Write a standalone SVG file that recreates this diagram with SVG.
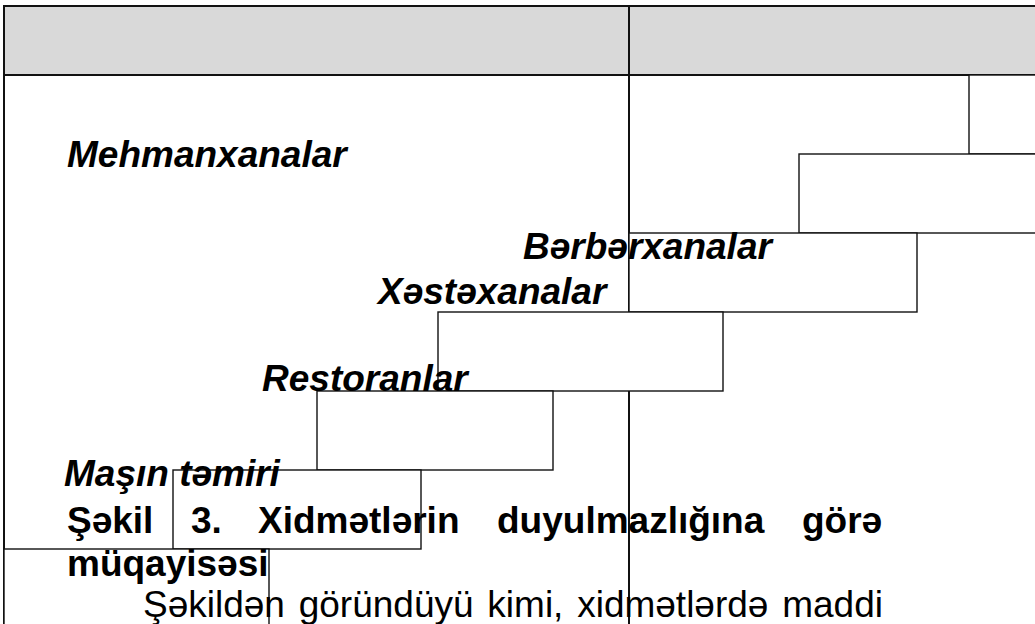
<svg xmlns="http://www.w3.org/2000/svg" width="1035" height="624" viewBox="0 0 1035 624">
  <style>
    .frame { stroke: #111; stroke-width: 2; fill: none; }
    .step { fill: #fff; stroke: #111; stroke-width: 1.4; }
    .label { font-family: "Liberation Sans", Arial, sans-serif; font-size: 37px; font-weight: bold; font-style: italic; fill: #000; }
    .caption { font-family: "Liberation Sans", Arial, sans-serif; font-size: 37px; font-weight: bold; fill: #000; }
    .body { font-family: "Liberation Sans", Arial, sans-serif; font-size: 37px; fill: #000; }
  </style>

  <rect width="1035" height="624" fill="#fff"/>

  <!-- table frame: shaded header row, outer left rule and column divider -->
  <g id="table">
    <rect x="4" y="6" width="1040" height="69" fill="#d9d9d9"/>
    <line class="frame" x1="4" y1="6" x2="1035" y2="6"/>
    <line class="frame" x1="4" y1="75" x2="1035" y2="75"/>
    <line class="frame" x1="4" y1="5" x2="4" y2="624"/>
    <line class="frame" x1="629" y1="5" x2="629" y2="624"/>
  </g>

  <!-- staircase of service bars -->
  <g id="connectors"></g>
  <g id="step-a"><rect class="step" x="969" y="75" width="100" height="79"/></g>
  <g id="step-b"><rect class="step" x="799" y="154" width="260" height="79"/></g>
  <g id="step-c"><rect class="step" x="629" y="233" width="288" height="79"/></g>
  <g id="step-d"><rect class="step" x="438" y="312" width="285" height="79"/></g>
  <g id="step-e"><rect class="step" x="317" y="391" width="236" height="79"/></g>
  <g id="step-f"><rect class="step" x="173" y="470" width="248" height="79"/></g>
  <g id="step-g"><rect class="step" x="4" y="549" width="265" height="90"/></g>

  <!-- bar labels -->
  <g id="labels">
    <text class="label" x="67" y="167">Mehmanxanalar</text>
    <text class="label" x="523" y="259">Bərbərxanalar</text>
    <text class="label" x="378" y="304">Xəstəxanalar</text>
    <text class="label" x="262" y="391">Restoranlar</text>
    <text class="label" x="64" y="486">Maşın təmiri</text>
  </g>

  <!-- figure caption and following paragraph -->
  <g id="caption">
    <text class="caption" y="533"><tspan x="67">Şəkil</tspan><tspan x="191">3.</tspan><tspan x="258">Xidmətlərin</tspan><tspan x="497">duyulmazlığına</tspan><tspan x="802">görə</tspan></text>
    <text class="caption" x="67" y="576">müqayisəsi</text>
    <text class="body" x="143" y="617" word-spacing="3.5">Şəkildən göründüyü kimi, xidmətlərdə maddi</text>
  </g>
</svg>
